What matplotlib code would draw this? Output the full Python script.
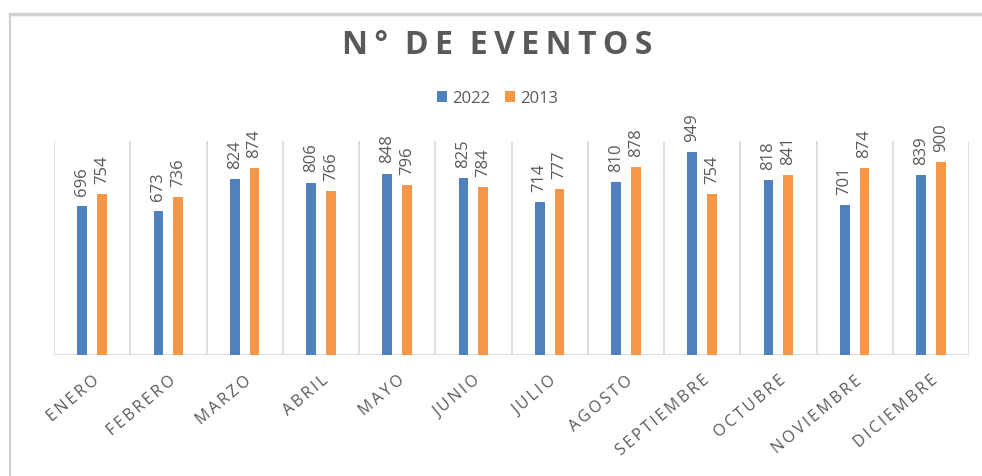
"""Number of events per month, 2022 vs 2013, grouped bars."""

import matplotlib.pyplot as plt
import numpy as np
from matplotlib.lines import Line2D

months = ["ENERO", "FEBRERO", "MARZO", "ABRIL", "MAYO", "JUNIO", "JULIO",
          "AGOSTO", "SEPTIEMBRE", "OCTUBRE", "NOVIEMBRE", "DICIEMBRE"]
eventos_2022 = [696, 673, 824, 806, 848, 825, 714, 810, 949, 818, 701, 839]
eventos_2013 = [754, 736, 874, 766, 796, 784, 777, 878, 754, 841, 874, 900]
series_labels = ["2022", "2013"]
title_text = "N° DE EVENTOS"

BLUE = "#4F81BD"
ORANGE = "#F79646"
GRID = "#d9d9d9"
TEXT = "#595959"
FONT = ["Open Sans", "DejaVu Sans"]
THIN = "\u2009"


def spaced(s: str) -> str:
    # mimic Excel's character spacing: thin space between letters
    return "  ".join(THIN.join(word) for word in s.split(" "))


def main() -> None:
    fig = plt.figure(figsize=(9.82, 4.77), dpi=100)
    ax = fig.add_axes([54 / 982, 121 / 477, 915 / 982, 214 / 477])

    x = np.arange(len(months))
    w = 0.13
    b1 = ax.bar(x - w, eventos_2022, width=w, color=BLUE, label=series_labels[0])
    b2 = ax.bar(x + w, eventos_2013, width=w, color=ORANGE, label=series_labels[1])

    for bars, vals in ((b1, eventos_2022), (b2, eventos_2013)):
        for r, v in zip(bars, vals):
            ax.annotate(str(v), (r.get_x() + r.get_width() / 2, v),
                        xytext=(0, 8), textcoords="offset points",
                        rotation=90, ha="center", va="bottom",
                        fontsize=12, color=TEXT, family=FONT)

    ax.set_xlim(-0.5, len(months) - 0.5)
    ax.set_ylim(0, 1000)
    ax.set_yticks([])
    ax.set_xticks(x)
    ax.set_xticklabels([spaced(m) for m in months], rotation=40, ha="right",
                       rotation_mode="anchor", fontsize=11.5, color=TEXT,
                       family=FONT)
    ax.tick_params(axis="x", length=0, pad=12)

    # category separators
    for b in np.arange(-0.5, len(months), 1.0):
        ax.axvline(b, color=GRID, lw=1.2, zorder=0)
    for s in ax.spines.values():
        s.set_visible(False)
    ax.axhline(0, color=GRID, lw=1.2, zorder=0)

    fig.text(0.506, 1 - 45 / 477, spaced(title_text), ha="center",
             va="center", fontsize=23, fontweight="bold", color=TEXT,
             family=FONT)

    ax.legend(loc="center", bbox_to_anchor=(0.485, 1.20), ncol=2,
              frameon=False, handlelength=0.6, handleheight=0.6,
              handletextpad=0.3, columnspacing=0.9, labelcolor=TEXT,
              prop={"family": FONT, "size": 12})

    # outer frame pieces visible in the screenshot
    fig.add_artist(Line2D([10 / 982, 1.0], [1 - 15 / 477] * 2,
                          color="#d0d0d0", lw=2.5))
    fig.add_artist(Line2D([10 / 982] * 2, [0, 1 - 15 / 477],
                          color="#d0d0d0", lw=1.5))

    fig.savefig("out.png", dpi=100)
    plt.close(fig)


if __name__ == "__main__":
    main()
